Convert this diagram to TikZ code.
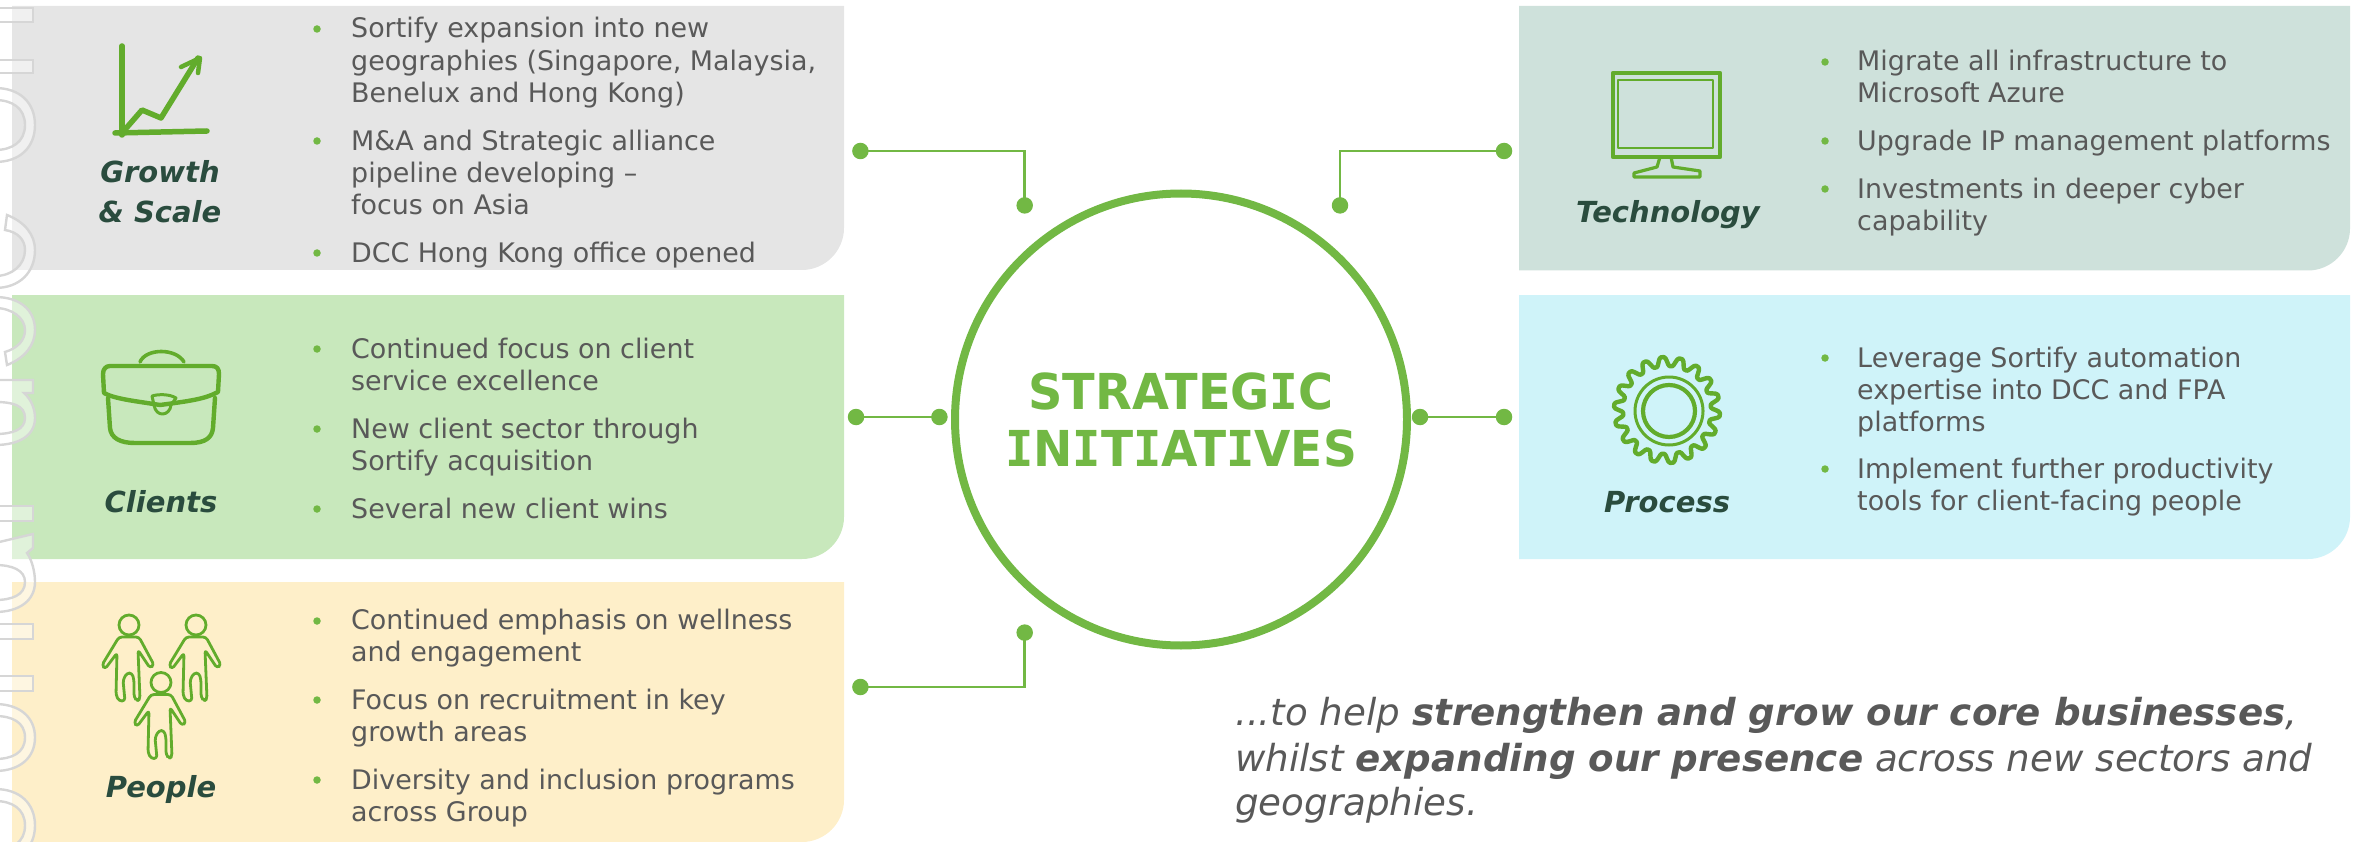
\documentclass[tikz,border=0pt]{standalone}
\usepackage{fontspec}
\setmainfont{DejaVu Sans}
\newfontfamily\slabfont{DejaVu Sans Mono}
\newcommand{\slabI}{{\slabfont\bfseries I}}
\definecolor{accent}{HTML}{72B844}
\definecolor{icon}{HTML}{62AC2C}
\definecolor{bodytxt}{HTML}{595959}
\definecolor{labeltxt}{HTML}{2A4C3E}
\definecolor{pgrey}{HTML}{E5E5E5}
\definecolor{pgreen}{HTML}{C8E8BC}
\definecolor{pyellow}{HTML}{FEEFC9}
\definecolor{pteal}{HTML}{CEE1DB}
\definecolor{pcyan}{HTML}{CFF3F9}
\tikzset{
  line/.style={anchor=base west,inner sep=0pt,text=bodytxt,font=\fontsize{26.9}{32}\selectfont},
  lab/.style={anchor=base,inner sep=0pt,text=labeltxt,font=\fontsize{29}{36}\selectfont\bfseries\itshape},
  closing/.style={anchor=base west,inner sep=0pt,text=bodytxt,font=\fontsize{37.2}{45}\selectfont\itshape},
  bul/.style={circle,fill=accent,inner sep=0pt,minimum size=7.5pt},
  dot/.style={circle,fill=accent,inner sep=0pt,minimum size=16.5pt},
  conn/.style={draw=accent,line width=2.7pt},
  ico/.style={draw=icon,line width=4.4pt,line cap=round,line join=round},
  ghost/.style={draw=black!16,line width=2.4pt,fill=white,fill opacity=.45},
}
\newcommand{\panelshape}[6]{\fill[#6] (#2,#3) -- (#4,#3) -- (#4,#5-42) .. controls (#4,#5-19) and (#4-19,#5) .. (#4-42,#5) -- (#2,#5) -- cycle; \coordinate (#1) at (#2,#3);}
\newcommand{\tl}[4]{\node[line] (#1) at (#2,#3) {#4};}
\newcommand{\bl}[3]{\node[bul] (#1) at (#2,#3) {};}
\newcommand{\ghostbar}[2]{\path[ghost] (-5,#1) rectangle (33,#2);}
\newcommand{\ghostring}[2]{\path[ghost] (-5,#1) .. controls (20,#1) and (35,{#1+(#2-#1)*.2}) .. (35,{(#1+#2)/2}) .. controls (35,{#2-(#2-#1)*.2}) and (20,#2) .. (-5,#2) -- (-5,#2-12) .. controls (12,#2-12) and (25,{#2-(#2-#1)*.27}) .. (25,{(#1+#2)/2}) .. controls (25,{#1+(#2-#1)*.27}) and (12,#1+12) .. (-5,#1+12) -- cycle;}
\newcommand{\person}[2]{\begin{scope}[shift={(#1,#2)}]
  \draw[ico,line width=2.8pt] (0,0) circle (10);
  \draw[ico,line width=2.8pt,rounded corners=3pt] (-10,12) -- (-27,40) -- (-24,44) -- (-12,28) -- (-13,70) -- (-10,76) -- (-4,76) -- (-6,55) -- (-2,48) -- (3,48) -- (5,55) -- (5,72) -- (8,76) -- (11,74) -- (9,25) -- (21,43) -- (25,40) -- (10,12) -- cycle;
\end{scope}}
\begin{document}
\begin{tikzpicture}[x=1pt,y=-1pt]
\useasboundingbox (0,0) rectangle (2357,842);
% panels
\panelshape{pA}{12}{6}{844}{270}{pgrey}
\panelshape{pB}{12}{295}{844}{559}{pgreen}
\panelshape{pC}{12}{582}{844}{842}{pyellow}
\panelshape{pD}{1519}{6}{2350}{270.5}{pteal}
\panelshape{pE}{1519}{295}{2350}{559}{pcyan}
% ghost lettering
\ghostbar{8}{22}
\ghostbar{60}{73}
\ghostring{88}{162}
\path[ghost] (7,215) .. controls (25,222) and (35,235) .. (35,250) .. controls (35,272) and (20,288) .. (-5,288) -- (-5,276) .. controls (12,276) and (25,265) .. (25,250) .. controls (25,240) and (18,232) .. (5,230) -- cycle;
\path[ghost] (-5,297) .. controls (20,297) and (35,310) .. (35,330) .. controls (35,345) and (25,358) .. (7,365) -- (5,352) .. controls (18,348) and (25,340) .. (25,330) .. controls (25,318) and (12,308) .. (-5,308) -- cycle;
\path[ghost] (-5,380) -- (33,380) -- (33,393) -- (24,393) .. controls (32,400) and (35,410) .. (35,418) .. controls (35,435) and (20,445) .. (-5,445) -- (-5,434) .. controls (12,434) and (25,430) .. (25,418) .. controls (25,405) and (12,402) .. (-5,402) -- cycle;
\ghostbar{506}{521}
\path[ghost] (-5,543) -- (33,534) -- (33,548) -- (27,553) .. controls (32,560) and (35,572) .. (35,582) .. controls (35,600) and (20,612) .. (-5,612) -- (-5,600) .. controls (12,600) and (25,595) .. (25,582) .. controls (25,570) and (12,565) .. (-5,565) -- cycle;
\ghostbar{624}{639}
\ghostbar{676}{691}
\ghostring{704}{771}
\ghostring{789}{862}
% connectors
\node[dot] (d1) at (860.4,151) {};
\node[dot] (d2) at (1024.7,205.4) {};
\node[dot] (d3) at (1504,151) {};
\node[dot] (d4) at (1340,205.4) {};
\node[dot] (d5) at (856,417) {};
\node[dot] (d6) at (939.4,417) {};
\node[dot] (d7) at (1420,417) {};
\node[dot] (d8) at (1504,417) {};
\node[dot] (d9) at (860.4,687) {};
\node[dot] (d10) at (1024.7,632.6) {};
\draw[conn] (d1.center) -| (d2.center);
\draw[conn] (d3.center) -| (d4.center);
\draw[conn] (d5.center) -- (d6.center);
\draw[conn] (d7.center) -- (d8.center);
\draw[conn] (d9.center) -| (d10.center);
% hub
\node[circle,draw=accent,line width=8pt,inner sep=0pt,minimum size=452pt,text=accent,align=center,font=\fontsize{49.5}{57}\selectfont\bfseries] (hub) at (1181,419.5) {\scalebox{.965}[1]{STRATEG\slabI C}\\\scalebox{.95}[1]{\slabI N\slabI T\slabI AT\slabI VES}};
% growth icon
\draw[ico,line width=5.5pt] (122,46) -- (122,135);
\draw[ico,line width=5.5pt] (115,133) -- (207,131);
\draw[ico,line width=5.5pt] (122,133) -- (142,110) -- (161,118) -- (198,58);
\draw[ico,line width=4.5pt] (181,67) -- (200,58) -- (198,73);
\node[lab] (lA1) at (160,183) {Growth};
\node[lab] (lA2) at (160,223) {\& Scale};
% briefcase
\draw[ico] (110,366) -- (212,366) .. controls (217,366) and (219,369) .. (219,374) -- (218,392) .. controls (205,399) and (190,401) .. (160,405) .. controls (135,401) and (115,399) .. (104,393) -- (103,374) .. controls (103,369) and (106,366) .. (110,366) -- cycle;
\draw[ico] (108,398) -- (110,428) .. controls (111,438) and (120,443) .. (135,443) -- (190,443) .. controls (205,443) and (212,438) .. (213,428) -- (215,398);
\draw[ico,line width=3.6pt] (140,362) .. controls (146,348) and (176,348) .. (184,362);
\draw[ico,line width=3pt] (152,396) .. controls (158,394) and (170,394) .. (176,398) -- (171,405) .. controls (170,416) and (156,418) .. (154,405) -- cycle;
\node[lab] (lB) at (161,512) {Clients};
% people
\person{129}{625}
\person{196}{625}
\person{161}{682.5}
\node[lab] (lC) at (161,797) {People};
% monitor
\draw[ico] (1613,73) rectangle (1720,157);
\draw[ico,line width=2.6pt] (1618,80) rectangle (1713,148);
\draw[ico,line width=3.2pt] (1660,157) -- (1657,167) -- (1634,173) -- (1634,177) -- (1700,177) -- (1700,171) -- (1673,167) -- (1671,157);
\node[lab] (lD) at (1668,223) {Technology};
% gear
\draw[ico,line width=4.4pt,smooth,samples=217,domain=0:360] plot ({1667+(48.5+4.5*max(-1,min(1,1.4*sin(18*\x))))*cos(\x)},{410+(48.5+4.5*max(-1,min(1,1.4*sin(18*\x))))*sin(\x)});
\draw[ico,line width=3pt] (1669,411) circle (34);
\draw[ico,line width=4.2pt] (1669,411) circle (26);
\node[lab] (lE) at (1667,512) {Process};
% growth text
\bl{bA1}{317}{29}\tl{tA1}{351}{38}{Sortify expansion into new}
\tl{tA2}{351}{70.7}{geographies (Singapore, Malaysia,}
\tl{tA3}{351}{102.7}{Benelux and Hong Kong)}
\bl{bA2}{317}{141}\tl{tA4}{351}{150.7}{M\&A and Strategic alliance}
\tl{tA5}{351}{182.7}{pipeline developing –}
\tl{tA6}{351}{214.7}{focus on Asia}
\bl{bA3}{317}{253}\tl{tA7}{351}{262.7}{DCC Hong Kong office opened}
% clients text
\bl{bB1}{317}{349}\tl{tB1}{351}{358}{Continued focus on client}
\tl{tB2}{351}{390}{service excellence}
\bl{bB2}{317}{429}\tl{tB3}{351}{438}{New client sector through}
\tl{tB4}{351}{470}{Sortify acquisition}
\bl{bB3}{317}{509}\tl{tB5}{351}{518}{Several new client wins}
% people text
\bl{bC1}{317}{621}\tl{tC1}{351}{629}{Continued emphasis on wellness}
\tl{tC2}{351}{661}{and engagement}
\bl{bC2}{317}{700}\tl{tC3}{351}{709}{Focus on recruitment in key}
\tl{tC4}{351}{741}{growth areas}
\bl{bC3}{317}{780}\tl{tC5}{351}{789}{Diversity and inclusion programs}
\tl{tC6}{351}{821}{across Group}
% technology text
\bl{bD1}{1825}{62}\tl{tD1}{1857}{70.7}{Migrate all infrastructure to}
\tl{tD2}{1857}{102.7}{Microsoft Azure}
\bl{bD2}{1825}{141}\tl{tD3}{1857}{150.7}{Upgrade IP management platforms}
\bl{bD3}{1825}{189}\tl{tD4}{1857}{199}{Investments in deeper cyber}
\tl{tD5}{1857}{231}{capability}
% process text
\bl{bE1}{1825}{358}\tl{tE1}{1857}{367}{Leverage Sortify automation}
\tl{tE2}{1857}{399}{expertise into DCC and FPA}
\tl{tE3}{1857}{431}{platforms}
\bl{bE2}{1825}{469}\tl{tE4}{1857}{478}{Implement further productivity}
\tl{tE5}{1857}{510}{tools for client-facing people}
% closing text
\node[closing] (c1) at (1235,725.7) {...to help \textbf{strengthen and grow our core businesses},};
\node[closing] (c2) at (1235,771) {whilst \textbf{expanding our presence} across new sectors and};
\node[closing] (c3) at (1235,815.7) {geographies.};
\end{tikzpicture}
\end{document}
